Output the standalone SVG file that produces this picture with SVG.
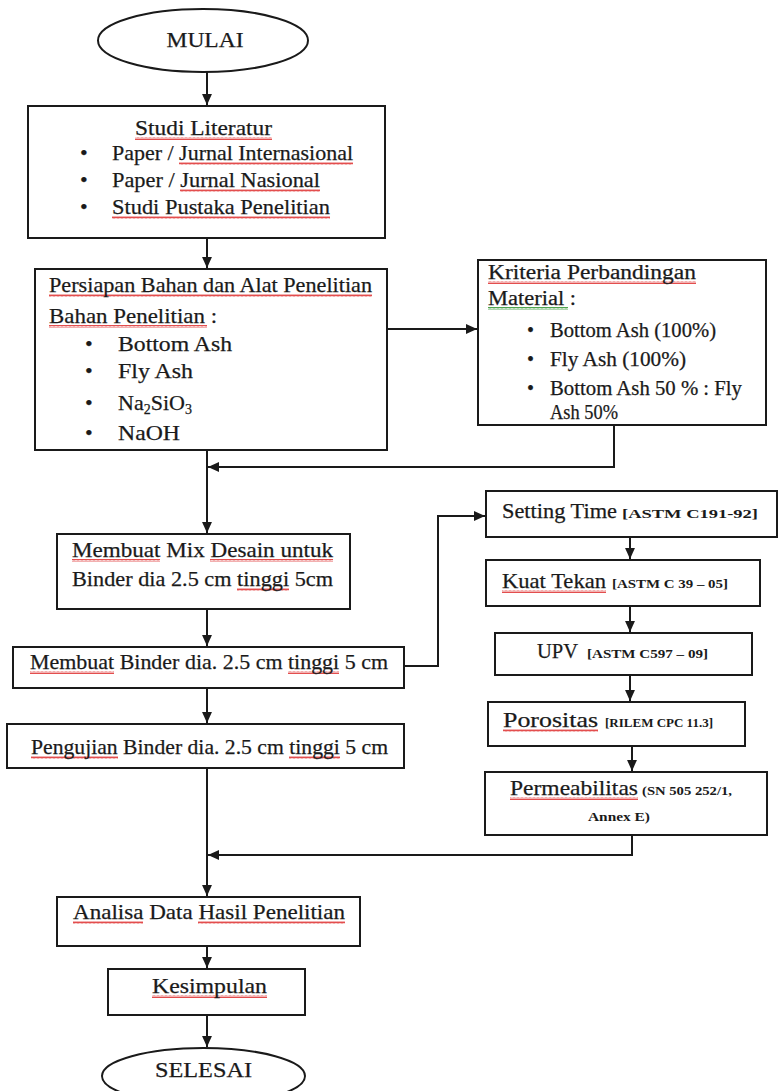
<svg xmlns="http://www.w3.org/2000/svg" width="778" height="1091" viewBox="0 0 778 1091">
<style>
text{font-family:"Liberation Serif","Times New Roman",serif;fill:#1a1a1a;font-size:22px;stroke:#1a1a1a;stroke-width:0.25}
.box{fill:#fff;stroke:#1a1a1a;stroke-width:2}
.c{fill:none;stroke:#1a1a1a;stroke-width:2}
.sm{font-size:12px;font-weight:bold;stroke-width:0}
.s3{font-size:20px}
.red{fill:url(#wr)}
.grn{fill:url(#wg)}
</style>
<defs>
<marker id="ah" viewBox="0 0 10 10" refX="10" refY="5" markerWidth="11" markerHeight="11" markerUnits="userSpaceOnUse" orient="auto"><path d="M0,0.5 L10,5 L0,9.5 z" fill="#1a1a1a"/></marker>
<pattern id="wr" width="4" height="3" patternUnits="userSpaceOnUse"><path d="M0,2.5 L1,0.5 L2,2.5 L3,0.5 L4,2.5" fill="none" stroke="#e03a3a" stroke-width="0.9"/></pattern>
<pattern id="wg" width="4" height="3" patternUnits="userSpaceOnUse"><path d="M0,2.5 L1,0.5 L2,2.5 L3,0.5 L4,2.5" fill="none" stroke="#3a9a3a" stroke-width="0.9"/></pattern>
</defs>
<rect width="778" height="1091" fill="#fff"/>

<g id="connectors">
<path class="c" d="M207,72 V105" marker-end="url(#ah)"/>
<path class="c" d="M207,238 V268" marker-end="url(#ah)"/>
<path class="c" d="M387,329 H477" marker-end="url(#ah)"/>
<path class="c" d="M614,425 V467 H208" marker-end="url(#ah)"/>
<path class="c" d="M207,450 V533" marker-end="url(#ah)"/>
<path class="c" d="M207,609 V646" marker-end="url(#ah)"/>
<path class="c" d="M404,666 H438 V516 H485" marker-end="url(#ah)"/>
<path class="c" d="M630,537 V559" marker-end="url(#ah)"/>
<path class="c" d="M630,606 V632" marker-end="url(#ah)"/>
<path class="c" d="M630,675 V701" marker-end="url(#ah)"/>
<path class="c" d="M632,746 V771" marker-end="url(#ah)"/>
<path class="c" d="M632,835 V855 H208" marker-end="url(#ah)"/>
<path class="c" d="M207,688 V723" marker-end="url(#ah)"/>
<path class="c" d="M207,768 V896" marker-end="url(#ah)"/>
<path class="c" d="M207,946 V968" marker-end="url(#ah)"/>
<path class="c" d="M207,1015 V1047" marker-end="url(#ah)"/>
</g>

<g id="mulai">
<ellipse class="box" cx="203" cy="40.5" rx="105" ry="31.5"/>
<text x="205" y="47" text-anchor="middle" textLength="77" lengthAdjust="spacingAndGlyphs">MULAI</text>
</g>

<g id="studi-literatur">
<rect class="box" x="28" y="106" width="357" height="132"/>
<rect class="red" x="135" y="137" width="137" height="3"/>
<rect class="red" x="179" y="162" width="174" height="3"/>
<rect class="red" x="180" y="189" width="140" height="3"/>
<rect class="red" x="112" y="216" width="218" height="3"/>
<text x="135" y="135" textLength="137" lengthAdjust="spacingAndGlyphs">Studi Literatur</text>
<text x="80" y="160">•</text><text x="112" y="160" textLength="241" lengthAdjust="spacingAndGlyphs">Paper / Jurnal Internasional</text>
<text x="80" y="187">•</text><text x="112" y="187" textLength="208" lengthAdjust="spacingAndGlyphs">Paper / Jurnal Nasional</text>
<text x="80" y="214">•</text><text x="112" y="214" textLength="218" lengthAdjust="spacingAndGlyphs">Studi Pustaka Penelitian</text>
</g>

<g id="persiapan">
<rect class="box" x="35" y="269" width="352" height="181"/>
<rect class="red" x="49" y="294" width="323" height="3"/>
<rect class="red" x="49" y="325" width="158" height="3"/>
<text x="49" y="292" textLength="323" lengthAdjust="spacingAndGlyphs">Persiapan Bahan dan Alat Penelitian</text>
<text x="49" y="323" textLength="168" lengthAdjust="spacingAndGlyphs">Bahan Penelitian :</text>
<text x="85" y="351">•</text><text x="118" y="351" textLength="114" lengthAdjust="spacingAndGlyphs">Bottom Ash</text>
<text x="85" y="378">•</text><text x="118" y="378" textLength="75" lengthAdjust="spacingAndGlyphs">Fly Ash</text>
<text x="85" y="410">•</text><text x="118" y="410">Na<tspan font-size="14" dy="4">2</tspan><tspan dy="-4">SiO</tspan><tspan font-size="14" dy="4">3</tspan></text>
<text x="85" y="440">•</text><text x="118" y="440" textLength="62" lengthAdjust="spacingAndGlyphs">NaOH</text>
</g>

<g id="kriteria">
<rect class="box" x="478" y="260" width="288" height="165"/>
<rect class="red" x="488" y="281" width="208" height="3"/>
<rect class="grn" x="488" y="307" width="80" height="3"/>
<text x="488" y="279" textLength="208" lengthAdjust="spacingAndGlyphs" class="s3">Kriteria Perbandingan</text>
<text x="488" y="305" textLength="88" lengthAdjust="spacingAndGlyphs" class="s3">Material :</text>
<text x="527" y="337" class="s3">•</text><text x="550" y="337" class="s3" textLength="166" lengthAdjust="spacingAndGlyphs">Bottom Ash (100%)</text>
<text x="527" y="366" class="s3">•</text><text x="550" y="366" class="s3" textLength="136" lengthAdjust="spacingAndGlyphs">Fly Ash (100%)</text>
<text x="527" y="395" class="s3">•</text><text x="550" y="395" class="s3" textLength="192" lengthAdjust="spacingAndGlyphs">Bottom Ash 50 % : Fly</text>
<text x="550" y="419" class="s3" textLength="68" lengthAdjust="spacingAndGlyphs">Ash 50%</text>
</g>

<g id="mix-desain">
<rect class="box" x="57" y="534" width="293" height="75"/>
<rect class="red" x="72" y="559" width="88" height="3"/>
<rect class="red" x="210" y="559" width="123" height="3"/>
<rect class="red" x="237" y="588" width="52" height="3"/>
<text x="72" y="557" textLength="261" lengthAdjust="spacingAndGlyphs">Membuat Mix Desain untuk</text>
<text x="72" y="586" textLength="261" lengthAdjust="spacingAndGlyphs">Binder dia 2.5 cm tinggi 5cm</text>
</g>

<g id="membuat-binder">
<rect class="box" x="13" y="647" width="391" height="41"/>
<rect class="red" x="30" y="671" width="84" height="3"/>
<rect class="red" x="288" y="671" width="51" height="3"/>
<text x="30" y="669" textLength="358" lengthAdjust="spacingAndGlyphs">Membuat Binder dia. 2.5 cm tinggi 5 cm</text>
</g>

<g id="pengujian">
<rect class="box" x="7" y="724" width="397" height="44"/>
<rect class="red" x="31" y="756" width="87" height="3"/>
<rect class="red" x="289" y="756" width="51" height="3"/>
<text x="31" y="754" textLength="357" lengthAdjust="spacingAndGlyphs">Pengujian Binder dia. 2.5 cm tinggi 5 cm</text>
</g>

<g id="setting-time">
<rect class="box" x="486" y="491" width="291" height="46"/>
<text x="502" y="518" textLength="115" lengthAdjust="spacingAndGlyphs">Setting Time</text>
<text x="622" y="518" class="sm" textLength="136" lengthAdjust="spacingAndGlyphs">[ASTM C191-92]</text>
</g>

<g id="kuat-tekan">
<rect class="box" x="486" y="560" width="274" height="46"/>
<rect class="red" x="502" y="590" width="104" height="3"/>
<text x="502" y="588" textLength="104" lengthAdjust="spacingAndGlyphs">Kuat Tekan</text>
<text x="612" y="588" class="sm" textLength="116" lengthAdjust="spacingAndGlyphs">[ASTM C 39 – 05]</text>
</g>

<g id="upv">
<rect class="box" x="495" y="633" width="257" height="42"/>
<text x="537" y="658" textLength="41" lengthAdjust="spacingAndGlyphs">UPV</text>
<text x="587" y="658" class="sm" textLength="121" lengthAdjust="spacingAndGlyphs">[ASTM C597 – 09]</text>
</g>

<g id="porositas">
<rect class="box" x="488" y="702" width="257" height="44"/>
<rect class="red" x="503" y="729" width="95" height="3"/>
<text x="503" y="727" textLength="95" lengthAdjust="spacingAndGlyphs">Porositas</text>
<text x="605" y="727" class="sm" textLength="108" lengthAdjust="spacingAndGlyphs">[RILEM CPC 11.3]</text>
</g>

<g id="permeabilitas">
<rect class="box" x="485" y="772" width="282" height="63"/>
<rect class="red" x="510" y="797" width="128" height="3"/>
<text x="510" y="795" textLength="128" lengthAdjust="spacingAndGlyphs">Permeabilitas</text>
<text x="642" y="795" class="sm" textLength="90" lengthAdjust="spacingAndGlyphs">(SN 505 252/1,</text>
<text x="588" y="821" class="sm" textLength="62" lengthAdjust="spacingAndGlyphs">Annex E)</text>
</g>

<g id="analisa">
<rect class="box" x="57" y="897" width="303" height="49"/>
<rect class="red" x="73" y="921" width="70" height="3"/>
<rect class="red" x="198" y="921" width="147" height="3"/>
<text x="73" y="919" textLength="272" lengthAdjust="spacingAndGlyphs">Analisa Data Hasil Penelitian</text>
</g>

<g id="kesimpulan">
<rect class="box" x="108" y="969" width="197" height="46"/>
<rect class="red" x="152" y="995" width="115" height="3"/>
<text x="152" y="993" textLength="115" lengthAdjust="spacingAndGlyphs">Kesimpulan</text>
</g>

<g id="selesai">
<ellipse class="box" cx="203.5" cy="1076" rx="101.5" ry="28"/>
<text x="203.5" y="1077" text-anchor="middle" textLength="97" lengthAdjust="spacingAndGlyphs">SELESAI</text>
</g>
</svg>
